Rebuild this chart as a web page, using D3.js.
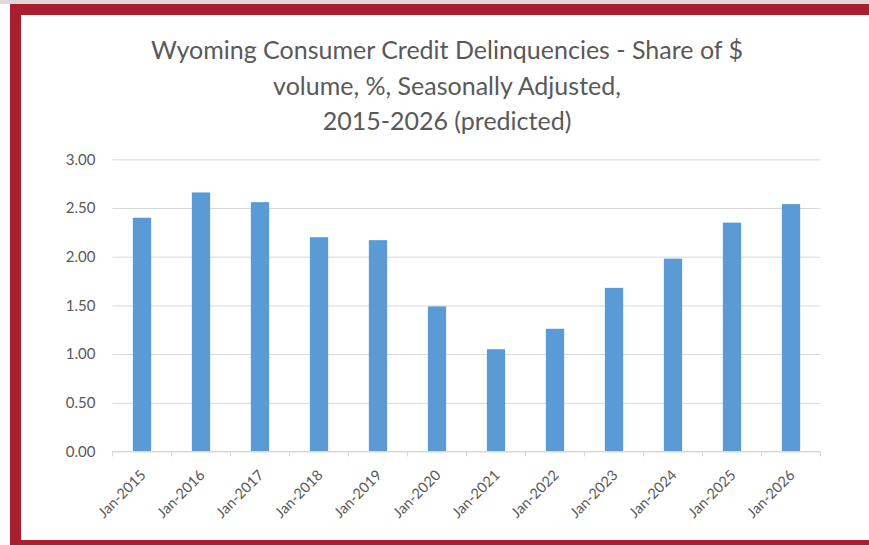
<!DOCTYPE html>
<html><head><meta charset="utf-8">
<script src="https://cdn.jsdelivr.net/npm/d3@7"></script>
<style>body{margin:0;background:#fff}</style></head>
<body><svg id="c" width="869" height="545"></svg>
<script>
const categories = ["Jan-2015","Jan-2016","Jan-2017","Jan-2018","Jan-2019","Jan-2020","Jan-2021","Jan-2022","Jan-2023","Jan-2024","Jan-2025","Jan-2026"];
const values = [2.40, 2.66, 2.56, 2.20, 2.17, 1.49, 1.05, 1.26, 1.68, 1.98, 2.35, 2.54];
const yTicks = [0, 0.5, 1.0, 1.5, 2.0, 2.5, 3.0];
const titleLines = ["Wyoming Consumer Credit Delinquencies - Share of $", "volume, %, Seasonally Adjusted,", "2015-2026 (predicted)"];

const svg = d3.select("#c");
const font = "Lato, 'Open Sans', sans-serif";
// frame
svg.append("rect").attr("x",0).attr("y",0).attr("width",869).attr("height",545).attr("fill","#fff");
svg.append("rect").attr("x",0).attr("y",0).attr("width",869).attr("height",4).attr("fill","#e2d6d6");
svg.append("rect").attr("x",10).attr("y",4).attr("width",859).attr("height",11).attr("fill","#a81f2d");
svg.append("rect").attr("x",10).attr("y",4).attr("width",11).attr("height",541).attr("fill","#a81f2d");
svg.append("rect").attr("x",10).attr("y",540).attr("width",859).attr("height",5).attr("fill","#a81f2d");

const m = {left:112.5, right:820.5, top:159.3, bottom:451.5};
const x = d3.scaleBand().domain(categories).range([m.left, m.right]).paddingInner(0.69).paddingOuter(0.345);
const y = d3.scaleLinear().domain([0,3]).range([m.bottom, m.top]);

// title
const tg = svg.append("g");
const tys = [53, 89, 124];
titleLines.forEach((t,i)=>{
  tg.append("text").attr("x",447).attr("y",tys[i]).attr("text-anchor","middle").attr("dominant-baseline","middle")
    .attr("font-family",font).attr("font-size",25).attr("fill","#595959").text(t);
});

// gridlines
const yAxis = d3.axisLeft(y).tickValues(yTicks).tickFormat(d3.format(".2f")).tickSize(-(m.right-m.left)).tickPadding(17);
const ga = svg.append("g").attr("transform",`translate(${m.left},0)`).call(yAxis);
ga.select(".domain").remove();
ga.selectAll(".tick line").attr("stroke","#d9d9d9").attr("stroke-width",1);
ga.selectAll(".tick text").attr("font-family",font).attr("font-size",15).attr("fill","#595959");

// bars
svg.append("g").selectAll("rect").data(values).join("rect")
  .attr("x",(d,i)=>x(categories[i])).attr("width",x.bandwidth())
  .attr("y",d=>y(d)).attr("height",d=>y(0)-y(d)).attr("fill","#5b9bd5");

// x axis
const step = x.step();
const bounds = d3.range(categories.length+1).map(i=>m.left + i*step);
const xa = svg.append("g");
xa.append("line").attr("x1",m.left).attr("x2",m.right).attr("y1",m.bottom).attr("y2",m.bottom).attr("stroke","#d9d9d9");
xa.selectAll("line.t").data(bounds).join("line").attr("class","t")
  .attr("x1",d=>d).attr("x2",d=>d).attr("y1",m.bottom).attr("y2",m.bottom+5).attr("stroke","#d9d9d9");
xa.selectAll("text").data(categories).join("text")
  .attr("transform",d=>`translate(${x(d)+x.bandwidth()/2+1},${m.bottom+21}) rotate(-45)`)
  .attr("text-anchor","end").attr("dy","0.35em")
  .attr("font-family",font).attr("font-size",14.5).attr("fill","#595959").text(d=>d);
</script></body></html>
